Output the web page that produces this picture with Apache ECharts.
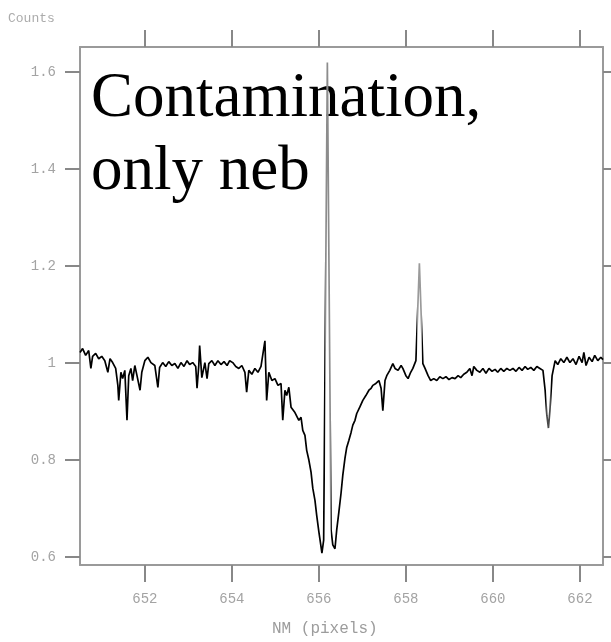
<!DOCTYPE html>
<html>
<head>
<meta charset="utf-8">
<script src="https://cdn.jsdelivr.net/npm/echarts@6/dist/echarts.min.js"></script>
<style>
  html, body { margin: 0; padding: 0; background: #fff; }
  #chart { width: 611px; height: 642px; }
</style>
</head>
<body>
<div id="chart"></div>
<script>
// ---- data: [wavelength nm, normalised counts] ----
const blueContinuum = [
  [650.51,1.022],[650.57,1.030],[650.64,1.016],[650.71,1.026],[650.76,0.989],[650.80,1.014],
  [650.87,1.020],[650.94,1.009],[651.01,1.014],[651.08,1.005],[651.15,0.981],[651.20,1.009],
  [651.26,1.001],[651.33,0.989],[651.38,0.954],[651.40,0.923],[651.45,0.981],[651.49,0.968],
  [651.54,0.985],[651.59,0.882],[651.63,0.974],[651.68,0.989],[651.72,0.964],[651.77,0.995],
  [651.82,0.974],[651.89,0.944],[651.93,0.981],[652.00,1.005],[652.07,1.012],[652.14,1.001],
  [652.23,0.995],[652.30,0.950],[652.34,0.991],[652.41,1.001],[652.48,0.993],[652.55,1.003],
  [652.62,0.995],[652.69,0.999],[652.76,0.989],[652.83,1.001],[652.90,0.993],[652.97,1.005],
  [653.03,0.997]
];
const blueWing = [
  [653.10,1.001],[653.17,0.993],[653.20,0.948],[653.24,0.995],[653.26,1.036],[653.31,0.970],
  [653.38,1.001],[653.43,0.968],[653.47,0.999],[653.54,1.005],[653.61,0.995],[653.68,1.005],
  [653.75,0.997],[653.82,1.003],[653.89,0.995],[653.95,1.005],[654.02,1.001],[654.09,0.993],
  [654.16,0.989],[654.23,0.995],[654.30,0.981],[654.34,0.940],[654.39,0.985],[654.46,0.977],
  [654.53,0.989],[654.60,0.981],[654.67,0.993],[654.71,0.989],[654.76,1.046],[654.80,0.923],
  [654.85,0.981],[654.92,0.964],[654.99,0.968],[655.06,0.954],[655.13,0.958],[655.17,0.882],
  [655.22,0.944],[655.26,0.933],[655.31,0.950],[655.36,0.909],[655.40,0.913],[655.45,0.898],
  [655.49,0.902],[655.54,0.882],[655.59,0.888],[655.63,0.861]
];
const lineCore = [
  [655.68,0.851],[655.72,0.820],[655.77,0.800],[655.82,0.775],[655.86,0.742],[655.91,0.717],
  [655.95,0.686],[656.00,0.652],[656.05,0.621],[656.07,0.608],[656.11,0.635],[656.195,1.620],
  [656.28,0.656],[656.32,0.625],[656.37,0.617],[656.41,0.656],[656.46,0.693],[656.51,0.732],
  [656.55,0.769],[656.60,0.804],[656.64,0.826],[656.69,0.841],[656.74,0.857],[656.78,0.872],
  [656.83,0.882],[656.87,0.896],[656.94,0.909]
];
const redWing = [
  [657.01,0.923],[657.08,0.933],[657.15,0.944],[657.20,0.948],[657.24,0.954],[657.31,0.958],
  [657.38,0.964],[657.43,0.948],[657.47,0.902],[657.52,0.964],[657.56,0.974],[657.63,0.985],
  [657.70,0.999],[657.75,0.989],[657.82,0.985],[657.89,0.995],[657.93,0.989],[658.00,0.974],
  [658.05,0.968],[658.11,0.981],[658.16,0.989],[658.23,1.005],[658.31,1.206],[658.39,0.999],
  [658.44,0.989],[658.51,0.974],[658.57,0.964],[658.64,0.968],[658.71,0.964],[658.78,0.972],
  [658.85,0.968],[658.92,0.972],[658.99,0.966]
];
const redContinuum = [
  [659.06,0.970],[659.13,0.968],[659.20,0.974],[659.26,0.970],[659.33,0.977],[659.40,0.981],
  [659.47,0.989],[659.52,0.974],[659.56,0.993],[659.63,0.985],[659.70,0.981],[659.77,0.989],
  [659.84,0.979],[659.91,0.989],[659.98,0.983],[660.05,0.987],[660.11,0.981],[660.18,0.989],
  [660.25,0.983],[660.32,0.989],[660.39,0.985],[660.46,0.989],[660.53,0.983],[660.60,0.991],
  [660.67,0.985],[660.74,0.993],[660.80,0.987],[660.87,0.991],[660.94,0.985],[661.01,0.993],
  [661.08,0.989],[661.15,0.985],[661.20,0.944],[661.24,0.892],[661.276,0.866],[661.31,0.902],
  [661.36,0.974],[661.43,1.005],[661.49,0.997],[661.56,1.009],[661.63,1.001],[661.70,1.012],
  [661.77,1.001],[661.84,1.009],[661.91,0.997],[661.98,1.014],[662.05,1.001],[662.09,1.022],
  [662.14,0.995],[662.21,1.012],[662.28,1.003],[662.34,1.016],[662.41,1.005],[662.48,1.012],
  [662.53,1.007]
];
const xTicks = [652, 654, 656, 658, 660, 662];
const yTicks = [0.6, 0.8, 1, 1.2, 1.4, 1.6];
const xRange = [650.51, 662.53];
const yRange = [0.5835, 1.652];
const xTitle = 'NM (pixels)';
const yTitle = 'Counts';
const annotation = ['Contamination,', 'only neb'];

const spectrum = [].concat(blueContinuum, blueWing, lineCore, redWing, redContinuum);

const frameColor = '#9a9a9a';
const tickColor = '#888';
const labelFont = { fontFamily: 'Liberation Mono', fontSize: 14, color: '#a3a3a3' };

const chart = echarts.init(document.getElementById('chart'), null, { renderer: 'canvas' });
chart.setOption({
  animation: false,
  backgroundColor: '#fff',
  grid: { left: 80, right: 8, top: 47, bottom: 77, show: false },
  xAxis: [
    {
      type: 'value', position: 'bottom', min: xRange[0], max: xRange[1],
      axisLine: { show: true, onZero: false, lineStyle: { color: frameColor, width: 2 } },
      axisTick: { show: true, inside: false, length: 17, customValues: xTicks, lineStyle: { color: tickColor, width: 2 } },
      axisLabel: Object.assign({ customValues: xTicks, margin: 27 }, labelFont),
      splitLine: { show: false }
    },
    {
      type: 'value', position: 'top', min: xRange[0], max: xRange[1],
      axisLine: { show: true, onZero: false, lineStyle: { color: frameColor, width: 2 } },
      axisTick: { show: true, inside: false, length: 17, customValues: xTicks, lineStyle: { color: tickColor, width: 2 } },
      axisLabel: { show: false },
      splitLine: { show: false }
    }
  ],
  yAxis: [
    {
      type: 'value', position: 'left', min: yRange[0], max: yRange[1],
      axisLine: { show: true, onZero: false, lineStyle: { color: frameColor, width: 2 } },
      axisTick: { show: true, inside: false, length: 15, customValues: yTicks, lineStyle: { color: tickColor, width: 2 } },
      axisLabel: Object.assign({ customValues: yTicks, margin: 24 }, labelFont),
      splitLine: { show: false }
    },
    {
      type: 'value', position: 'right', min: yRange[0], max: yRange[1],
      axisLine: { show: true, onZero: false, lineStyle: { color: frameColor, width: 2 } },
      axisTick: { show: true, inside: false, length: 8, customValues: yTicks, lineStyle: { color: tickColor, width: 2 } },
      axisLabel: { show: false },
      splitLine: { show: false }
    }
  ],
  visualMap: {
    type: 'piecewise', show: false, dimension: 0, seriesIndex: 0,
    pieces: [
      { gte: 640, lt: 656.13, color: '#000000' },
      { gte: 656.13, lt: 656.27, color: '#8c8c8c' },
      { gte: 656.27, lt: 658.26, color: '#000000' },
      { gte: 658.26, lt: 658.36, color: '#9a9a9a' },
      { gte: 658.36, lt: 661.22, color: '#000000' },
      { gte: 661.22, lt: 661.33, color: '#4a4a4a' },
      { gte: 661.33, lt: 670, color: '#000000' }
    ],
    outOfRange: { color: '#000000' }
  },
  series: [{
    type: 'line',
    xAxisIndex: 0, yAxisIndex: 0,
    data: spectrum,
    showSymbol: false,
    symbol: 'none',
    lineStyle: { width: 1.7 },
    z: 3
  }],
  graphic: [
    { type: 'text', left: 8, top: 12, z: 1,
      style: { text: yTitle, font: '13px "Liberation Mono"', fill: '#ababab' } },
    { type: 'text', left: 272, top: 621, z: 1,
      style: { text: xTitle, font: '16px "Liberation Mono"', fill: '#9c9c9c' } },
    { type: 'text', left: 91, top: 68, z: 1,
      style: { text: annotation[0], font: '63px "Liberation Serif"', fill: '#000' } },
    { type: 'text', left: 91, top: 141, z: 1,
      style: { text: annotation[1], font: '63px "Liberation Serif"', fill: '#000' } }
  ]
});
</script>
</body>
</html>
